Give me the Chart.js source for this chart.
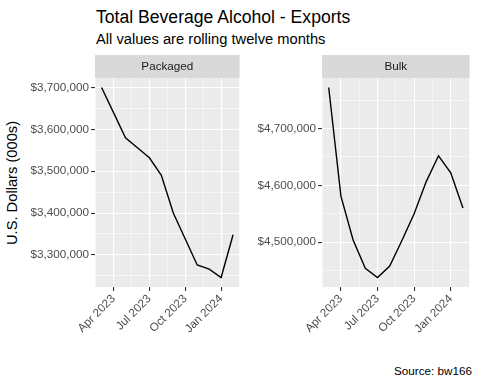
<!DOCTYPE html>
<html lang="en">
<head>
  <meta charset="UTF-8">
  <title>Total Beverage Alcohol - Exports</title>
  <script src="https://cdn.jsdelivr.net/npm/chart.js"></script>
  <style>
    body { margin: 0; background: #fff; font-family: "Liberation Sans", Arial, sans-serif; }
    #wrap { position: relative; width: 480px; height: 384px; overflow: hidden; }
    .txt { position: absolute; white-space: nowrap; line-height: 1; }
    .box { position: absolute; }
  </style>
</head>
<body>
  <div id="wrap">
    <div class="txt" style="left:96px; top:9px; font-size:17.6px; color:#000;">Total Beverage Alcohol - Exports</div>
    <div class="txt" style="left:96px; top:32px; font-size:14.7px; color:#000;">All values are rolling twelve months</div>
    <div class="txt" style="left:12px; top:183px; font-size:14.7px; color:#000; transform: translate(-50%, -50%) rotate(-90deg);">U.S. Dollars (000s)</div>
    <div class="box" style="left:20px; top:55px; width:230px; height:285px;"><canvas id="packagedChart"></canvas></div>
    <div class="box" style="left:250px; top:55px; width:230px; height:285px;"><canvas id="bulkChart"></canvas></div>
    <div class="txt" style="right:8px; top:365px; font-size:11.7px; color:#000;">Source: bw166</div>
  </div>

  <script>
    // monthly rolling twelve month values
    const months = ['Mar 2023', 'Apr 2023', 'May 2023', 'Jun 2023', 'Jul 2023', 'Aug 2023',
      'Sep 2023', 'Oct 2023', 'Nov 2023', 'Dec 2023', 'Jan 2024', 'Feb 2024'];
    const packaged = [3700000, 3640000, 3580000, 3556000, 3532000, 3490000,
      3400000, 3338000, 3276000, 3266000, 3246000, 3348000];
    const bulk = [4772000, 4581000, 4504000, 4454000, 4438000, 4458000,
      4503000, 4550000, 4607000, 4652000, 4622000, 4560000];
    const xTickLabels = ['Apr 2023', 'Jul 2023', 'Oct 2023', 'Jan 2024'];

    const monthNames = ['Jan', 'Feb', 'Mar', 'Apr', 'May', 'Jun', 'Jul', 'Aug', 'Sep', 'Oct', 'Nov', 'Dec'];
    function monthIndex(label) {
      const [m, y] = label.split(' ');
      return (parseInt(y) - 2023) * 12 + monthNames.indexOf(m);
    }

    const tickFont = { family: '"Liberation Sans", Arial, sans-serif', size: 11.7 };
    const majorX = xTickLabels.map(monthIndex);

    // grey panel + facet strip
    const panelPlugin = {
      id: 'panel',
      beforeDraw(chart, args, opts) {
        const { ctx, chartArea: a } = chart;
        ctx.save();
        ctx.fillStyle = '#EBEBEB';
        ctx.fillRect(a.left, a.top, a.right - a.left, a.bottom - a.top);
        ctx.fillStyle = '#D9D9D9';
        ctx.fillRect(a.left, a.top - 23, a.right - a.left, 23);
        ctx.fillStyle = '#1A1A1A';
        ctx.font = '11.7px "Liberation Sans", Arial, sans-serif';
        ctx.textAlign = 'center';
        ctx.textBaseline = 'middle';
        ctx.fillText(opts.label, (a.left + a.right) / 2, a.top - 11.5);
        ctx.restore();
      }
    };

    function makeChart(id, label, values, yWidth, padRight) {
      const pts = months.map((m, i) => ({ x: monthIndex(m), y: values[i] }));
      const xs = pts.map(p => p.x);
      const xMin = Math.min(...xs), xMax = Math.max(...xs);
      const xPad = (xMax - xMin) * 0.05;
      const yMin = Math.min(...values), yMax = Math.max(...values);
      const yPad = (yMax - yMin) * 0.05;

      const isMajorX = v => majorX.includes(v);
      const isMajorY = v => v % 100000 === 0;

      new Chart(document.getElementById(id), {
        type: 'line',
        data: {
          datasets: [{
            data: pts,
            borderColor: '#000',
            borderWidth: 1.4,
            pointRadius: 0,
            tension: 0,
            fill: false
          }]
        },
        plugins: [panelPlugin],
        options: {
          responsive: true,
          maintainAspectRatio: false,
          animation: false,
          layout: { padding: { top: 23, right: padRight, left: 0, bottom: 0 } },
          plugins: {
            legend: { display: false },
            tooltip: { enabled: false },
            panel: { label: label }
          },
          scales: {
            x: {
              type: 'linear',
              min: xMin - xPad,
              max: xMax + xPad,
              afterBuildTicks(scale) {
                const t = [];
                for (let v = majorX[0] - 1.5; v <= scale.max; v += 1.5) {
                  if (v >= scale.min) t.push({ value: v });
                }
                scale.ticks = t;
              },
              afterFit(scale) { scale.height = 53; },
              border: { display: false },
              grid: {
                color: '#FFFFFF',
                lineWidth: c => isMajorX(c.tick.value) ? 1.1 : 0.55,
                tickColor: c => isMajorX(c.tick.value) ? '#333333' : 'rgba(0,0,0,0)',
                tickLength: 4,
                tickWidth: 1.1
              },
              ticks: {
                autoSkip: false,
                minRotation: 45,
                maxRotation: 45,
                padding: 1,
                color: '#4D4D4D',
                font: tickFont,
                callback: v => isMajorX(v) ? xTickLabels[majorX.indexOf(v)] : ''
              }
            },
            y: {
              type: 'linear',
              min: yMin - yPad,
              max: yMax + yPad,
              afterBuildTicks(scale) {
                const t = [];
                for (let v = Math.ceil(scale.min / 50000) * 50000; v <= scale.max; v += 50000) {
                  t.push({ value: v });
                }
                scale.ticks = t;
              },
              afterFit(scale) { scale.width = yWidth; },
              border: { display: false },
              grid: {
                color: '#FFFFFF',
                lineWidth: c => isMajorY(c.tick.value) ? 1.1 : 0.55,
                tickColor: c => isMajorY(c.tick.value) ? '#333333' : 'rgba(0,0,0,0)',
                tickLength: 4,
                tickWidth: 1.1
              },
              ticks: {
                padding: 2,
                color: '#4D4D4D',
                font: tickFont,
                callback: v => isMajorY(v) ? '$' + v.toLocaleString('en-US') : ''
              }
            }
          }
        }
      });
    }

    makeChart('packagedChart', 'Packaged', packaged, 75, 5);
    makeChart('bulkChart', 'Bulk', bulk, 72, 8);
  </script>
</body>
</html>
